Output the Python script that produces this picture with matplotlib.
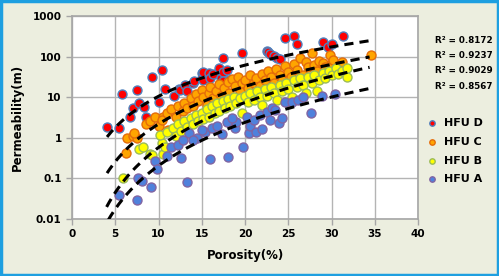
import numpy as np
import matplotlib
matplotlib.use("Agg")
import matplotlib.pyplot as plt
from matplotlib.patches import Rectangle

# HFU D
d_x = [4.0, 5.4, 5.8, 6.7, 7.0, 7.5, 7.7, 8.3, 8.6, 9.2, 10.0, 10.4, 10.7, 11.8, 12.4,
       12.5, 13.1, 13.3, 14.0, 14.1, 15.0, 15.0, 15.2, 15.2, 15.8, 16.0, 16.3, 17.0, 17.2,
       17.5, 17.5, 17.5, 17.9, 18.2, 19.6, 22.5, 22.7, 22.9, 23.4, 23.7, 24.0, 24.6, 25.7,
       26.0, 29.0, 29.6, 30.1, 31.3]
d_y = [1.8, 1.7, 12, 3.3, 5.4, 15, 7.2, 5.8, 3.2, 31, 7.5, 48, 16, 11, 16,
       15, 20, 14, 23, 25, 40, 30, 26, 42, 40, 30, 37, 52, 30,
       91, 42, 25, 47, 26, 123, 137, 130, 116, 103, 93, 87, 294, 327,
       204, 229, 173, 210, 326]

# HFU C
c_x = [6.2, 6.4, 7.0, 7.5, 7.2, 8.5, 9.0, 9.6, 10.0, 10.5, 10.4, 11.1, 11.0, 11.5, 12.0,
       12.2, 12.8, 13.0, 13.3, 13.8, 14.0, 14.3, 14.6, 15.0, 15.2, 15.6, 15.8, 16.0, 16.3,
       16.7, 17.0, 17.2, 17.6, 18.0, 18.2, 18.5, 18.8, 19.2, 19.4, 19.7, 20.0, 20.3, 20.6,
       21.0, 21.3, 21.7, 22.0, 22.3, 22.7, 23.0, 23.3, 23.6, 24.0, 24.3, 24.6, 25.0, 25.3,
       25.7, 26.0, 26.4, 26.7, 27.0, 27.3, 27.7, 28.0, 28.3, 28.6, 29.0, 29.3, 29.8, 30.0,
       30.2, 30.7, 31.2, 34.6]
c_y = [0.42, 1.0, 1.1, 1.0, 1.3, 2.2, 2.6, 3.2, 2.0, 3.2, 2.8, 1.6, 4.0, 5.0, 3.3,
       6.0, 4.5, 7.0, 5.5, 9.5, 6.0, 12, 8.0, 15, 10, 6.5, 13, 18, 9.5,
       14, 21, 11, 17, 24, 13, 28, 19, 32, 14, 22, 27, 17, 35,
       23, 30, 19, 38, 26, 45, 32, 22, 50, 36, 27, 58, 42, 32,
       65, 48, 93, 36, 72, 54, 124, 62, 44, 80, 70, 55, 108, 69,
       83, 60, 75, 108]

# HFU B
b_x = [5.9, 7.7, 8.2, 9.0, 9.2, 10.5, 10.4, 10.8, 10.2, 11.0, 11.7, 12.0, 12.3, 12.6, 13.0,
       13.3, 13.7, 14.0, 14.3, 14.6, 15.0, 15.2, 15.6, 15.8, 16.2, 16.5, 16.8, 17.0, 17.4,
       17.7, 18.0, 18.3, 18.7, 19.0, 19.4, 19.6, 20.0, 20.3, 20.6, 21.0, 21.4, 21.7, 22.0,
       22.3, 22.6, 23.0, 23.3, 23.7, 24.0, 24.3, 24.7, 25.0, 25.4, 25.7, 26.0, 26.4, 26.7,
       27.0, 27.3, 27.7, 28.0, 28.3, 28.6, 29.0, 29.3, 29.7, 30.0, 30.5, 30.8, 31.2, 31.8, 31.8]
b_y = [0.1, 0.53, 0.59, 0.4, 0.37, 0.4, 0.74, 0.6, 1.2, 1.4, 1.75, 1.1, 2.2, 1.5, 2.6,
       1.8, 3.0, 2.2, 3.6, 2.6, 4.2, 2.9, 5.0, 3.3, 6.0, 4.0, 7.0, 4.5, 8.0,
       5.5, 9.0, 6.0, 10, 7.0, 9.5, 4.0, 11, 7.5, 13, 8.5, 14, 10, 6.5,
       16, 11, 18, 12.5, 8.5, 20, 14, 23, 16, 10, 26, 18, 29, 20,
       13, 32, 23, 36, 14, 27, 40, 30, 45, 35, 52, 38, 44, 32, 52]

# HFU A
a_x = [5.4, 7.5, 7.6, 8.1, 9.1, 9.6, 9.8, 11.0, 11.5, 12.2, 12.6, 13.3, 14.4, 15.4, 15.9,
       16.2, 17.3, 17.9, 18.0, 18.8, 19.8, 20.2, 20.5, 20.6, 21.3, 22.0, 21.7, 22.5, 22.9,
       23.1, 23.5, 23.9, 24.3, 24.6, 25.4, 26.1, 26.7, 27.6, 28.9, 30.4, 13.5, 14.0, 12.8,
       15.0, 16.8, 19.0, 18.5, 21.0]
a_y = [0.04, 0.03, 0.1, 0.088, 0.06, 0.27, 0.17, 0.35, 0.6, 0.65, 0.31, 0.08, 1.0, 1.4, 0.3,
       1.75, 1.25, 2.45, 0.33, 1.75, 0.6, 3.2, 1.3, 1.9, 1.4, 1.65, 3.7, 4.3, 2.7,
       5.4, 4.9, 2.3, 3.1, 7.6, 7.6, 8.5, 10, 4.1, 11, 12, 1.3, 0.9, 0.9,
       1.6, 2.0, 2.5, 3.0, 2.8]

# power trendlines y = a * x^b (D, C, B, A)
fit_a = [0.0296, 0.001817, 1.207e-4, 5.86e-5]
fit_b = [2.551, 3.080, 3.680, 3.545]
fit_x0 = [4.05, 4.05, 4.0, 4.2]
fit_x1 = [34.4, 34.4, 34.4, 34.8]
r2_labels = ["R² = 0.8172", "R² = 0.9237", "R² = 0.9029", "R² = 0.8567"]

fig = plt.figure(figsize=(4.99, 2.76), dpi=100)
fig.patch.set_facecolor("#ECEEDF")
fig.patches.append(Rectangle((0.003, 0.005), 0.994, 0.99, transform=fig.transFigure,
                             fill=False, edgecolor="#1E9FE0", linewidth=2.5))

ax = fig.add_axes([0.1443, 0.2065, 0.6934, 0.7355])
ax.set_facecolor("white")

series = [
    (d_x, d_y, "#FF0000", "#4F81BD", "HFU D"),
    (c_x, c_y, "#FFA500", "#E46C0A", "HFU C"),
    (b_x, b_y, "#FFFF00", "#9BBB59", "HFU B"),
    (a_x, a_y, "#4F81DC", "#8064A2", "HFU A"),
]
for xs, ys, fc, ec, name in series:
    ax.scatter(xs, ys, s=42, facecolor=fc, edgecolor=ec, linewidth=1.0, zorder=3, label=name)

for a, b, x0, x1 in zip(fit_a, fit_b, fit_x0, fit_x1):
    xx = np.linspace(x0, x1, 200)
    ax.plot(xx, a * xx ** b, color="black", linestyle=(0, (3, 2)), linewidth=2.2, zorder=4)

ax.set_yscale("log")
ax.set_xlim(0, 40)
ax.set_ylim(0.01, 1000)
ax.set_xticks(range(0, 41, 5))
ax.set_yticks([0.01, 0.1, 1, 10, 100, 1000])
ax.set_yticklabels(["0.01", "0.1", "1", "10", "100", "1000"])
ax.minorticks_off()
ax.grid(True, color="#B4B4B4", linewidth=1.0)
ax.set_axisbelow(True)
for sp in ax.spines.values():
    sp.set_color("#A6A6A6")
    sp.set_linewidth(1.2)
ax.tick_params(colors="#A6A6A6", length=4, width=1.0, labelcolor="black", labelsize=7.5)
for lab in ax.get_xticklabels() + ax.get_yticklabels():
    lab.set_fontweight("bold")

ax.set_xlabel("Porosity(%)", fontsize=8.5, fontweight="bold", labelpad=7)
ax.set_ylabel("Permeability(m)", fontsize=8.5, fontweight="bold", labelpad=6)

r2_y = [0.855, 0.80, 0.745, 0.688]
for txt, yy in zip(r2_labels, r2_y):
    fig.text(0.872, yy, txt, fontsize=6.3, fontweight="bold", va="center")

leg = ax.legend(loc="upper left", bbox_to_anchor=(0.98, 0.545), frameon=False,
                handletextpad=0.05, labelspacing=0.78, markerscale=0.6,
                prop={"size": 8, "weight": "bold"})

fig.savefig("out.png", dpi=100, facecolor=fig.get_facecolor())
